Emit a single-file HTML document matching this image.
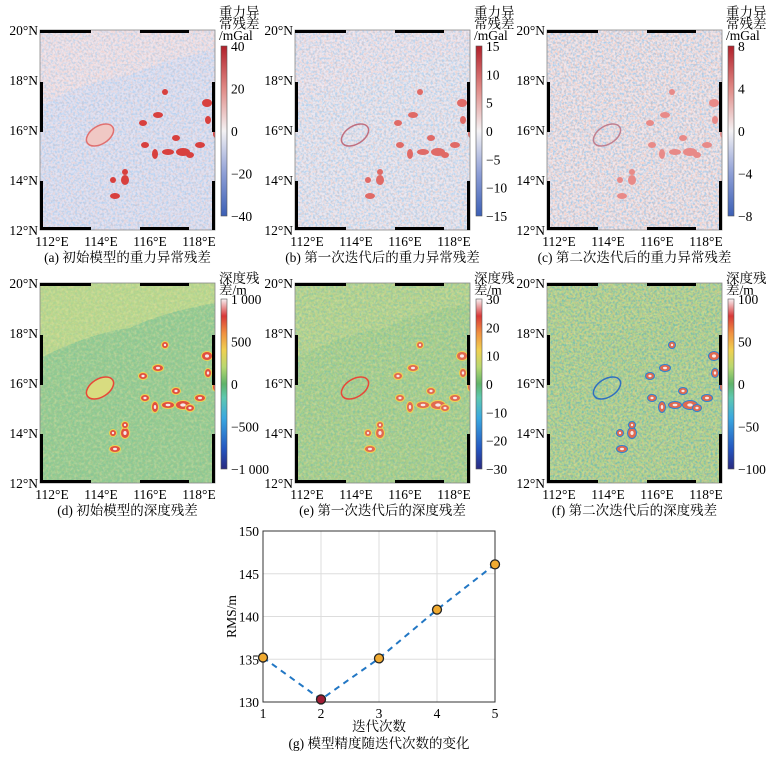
<!DOCTYPE html>
<html><head><meta charset="utf-8">
<style>
html,body{margin:0;padding:0;background:#fff;}
svg{display:block;font-family:"Liberation Serif","Noto Serif CJK SC",serif;}
</style></head>
<body>
<svg id="s" width="773" height="757" viewBox="0 0 773 757" xmlns="http://www.w3.org/2000/svg">
<defs>
<filter id="nz" x="0" y="0" width="100%" height="100%">
<feTurbulence type="fractalNoise" baseFrequency="0.45" numOctaves="2" seed="3"/>
<feColorMatrix type="matrix" values="0 0 0 0 0  0 0 0 0 0.3  0 0 0 0 0.9  0 0 0 -3 1.8"/>
</filter>
<filter id="nzr" x="0" y="0" width="100%" height="100%">
<feTurbulence type="fractalNoise" baseFrequency="0.45" numOctaves="2" seed="9"/>
<feColorMatrix type="matrix" values="0 0 0 0 0.95  0 0 0 0 0.35  0 0 0 0 0.2  0 0 0 -3 1.8"/>
</filter>
<filter id="nzy" x="0" y="0" width="100%" height="100%">
<feTurbulence type="fractalNoise" baseFrequency="0.35" numOctaves="2" seed="5"/>
<feColorMatrix type="matrix" values="0 0 0 0 0.95  0 0 0 0 0.85  0 0 0 0 0.4  0 0 0 -2.5 1.5"/>
</filter>
<linearGradient id="gbr" x1="0" y1="1" x2="0" y2="0">
<stop offset="0" stop-color="#3b5fb5"/><stop offset="0.25" stop-color="#8e9fd6"/><stop offset="0.5" stop-color="#f4f2f4"/><stop offset="0.75" stop-color="#e08a86"/><stop offset="1" stop-color="#b1202a"/>
</linearGradient>
<linearGradient id="gjet" x1="0" y1="1" x2="0" y2="0">
<stop offset="0" stop-color="#2a2a80"/><stop offset="0.12" stop-color="#2456c0"/><stop offset="0.3" stop-color="#3aa8e0"/><stop offset="0.42" stop-color="#5ec8b0"/><stop offset="0.5" stop-color="#5fb36a"/><stop offset="0.6" stop-color="#b8d870"/><stop offset="0.7" stop-color="#f0d050"/><stop offset="0.8" stop-color="#f09040"/><stop offset="0.9" stop-color="#d83838"/><stop offset="1" stop-color="#f8f0f2"/>
</linearGradient>
</defs>
</svg>
<script>
const s=document.getElementById('s');let h='';
const W=175,H=200;
const blobs=[[118,85,5,3],[105,115,4,3],[115,124,3,5],[143,122,7,4],[128,122,6,3],[136,108,4,3],[167,73,5,4],[73,150,3,3],[85,150,4,5],[85,142,3,3],[75,166,5,3],[160,115,5,3],[125,62,3,3],[103,93,4,3],[150,125,4,3],[176,104,3,4],[168,90,3,4]];
function bars(ox,oy){
 let r='';
 r+=`<rect x="${ox}" y="${oy}" width="${W}" height="${H}" fill="none" stroke="#888" stroke-width="0.8"/>`;
 [[0,51],[100,149]].forEach(([a,b])=>{
  r+=`<rect x="${ox+a}" y="${oy}" width="${b-a}" height="3" fill="#000"/>`;
  r+=`<rect x="${ox+a}" y="${oy+H-3}" width="${b-a}" height="3" fill="#000"/>`;});
 [[52,102],[151,200]].forEach(([a,b])=>{
  r+=`<rect x="${ox}" y="${oy+a}" width="3" height="${b-a}" fill="#000"/>`;
  r+=`<rect x="${ox+W-3}" y="${oy+a}" width="3" height="${b-a}" fill="#000"/>`;});
 ['20°N','18°N','16°N','14°N','12°N'].forEach((t,i)=>{r+=`<text x="${ox-2}" y="${oy+i*50+5}" font-size="13.5" text-anchor="end">${t}</text>`;});
 ['112°E','114°E','116°E','118°E'].forEach((t,i)=>{r+=`<text x="${ox+12+i*49}" y="${oy+H+16}" font-size="13.5" text-anchor="middle">${t}</text>`;});
 return r;}
function panel(ox,oy,k,cap){
 let r='';const cid='c'+ox+oy;
 r+=`<clipPath id="${cid}"><rect x="${ox}" y="${oy}" width="${W}" height="${H}"/></clipPath><g clip-path="url(#${cid})">`;
 const grav=oy<100;
 let bg,tl,blob;
 if(grav){bg=['#e2e2f2','#ebe8f1','#f2e6ea'][k];tl=['#f1e4ea','#efe7ef','#f2e6ea'][k];blob=['#d8403e','#e06a66','#e88a88'][k];}
 else{bg=['#92cb90','#a4d08a','#b0d48a'][k];tl=['#b8d88c','#b2d58c','#b4d58a'][k];blob=['#e05040','#e06a50','#e06a50'][k];}
 r+=`<rect x="${ox}" y="${oy}" width="${W}" height="${H}" fill="${bg}"/>`;
 r+=`<path d="M${ox} ${oy} L${ox+W} ${oy} L${ox+W} ${oy+20} Q${ox+120} ${oy+30} ${ox+90} ${oy+45} Q${ox+50} ${oy+50} ${ox} ${oy+75} Z" fill="${tl}"/>`;
 if(grav){
  const o=[0.18,0.22,0.28][k];
  r+=`<rect x="${ox}" y="${oy}" width="${W}" height="${H}" filter="url(#nz)" opacity="${o}"/>`;
  r+=`<rect x="${ox}" y="${oy}" width="${W}" height="${H}" filter="url(#nzr)" opacity="${o}"/>`;
 } else {
  const ob=[0.08,0.18,0.32][k], orr=[0.1,0.15,0.25][k];
  r+=`<rect x="${ox}" y="${oy}" width="${W}" height="${H}" filter="url(#nzy)" opacity="0.35"/>`;
  r+=`<rect x="${ox}" y="${oy}" width="${W}" height="${H}" filter="url(#nz)" opacity="${ob}"/>`;
  r+=`<rect x="${ox}" y="${oy}" width="${W}" height="${H}" filter="url(#nzr)" opacity="${orr}"/>`;
 }
 const ef=grav?(k==0?'#f0c8c4':'none'):(k==0?'#d8dc80':'none');
 const es=grav?['#e07070','#c07080','#c08090'][k]:['#e84838','#e84838','#3070c0'][k];
 r+=`<ellipse cx="${ox+60}" cy="${oy+105}" rx="15" ry="9" transform="rotate(-32 ${ox+60} ${oy+105})" fill="${ef}" stroke="${es}" stroke-width="1.5"/>`;
 blobs.forEach(([x,y,a,b])=>{
  if(!grav) r+=`<ellipse cx="${ox+x}" cy="${oy+y}" rx="${a+1}" ry="${b+1}" fill="${k==2?'#3080d0':'#f0d050'}"/>`;
  r+=`<ellipse cx="${ox+x}" cy="${oy+y}" rx="${a}" ry="${b}" fill="${blob}"/>`;
  if(!grav) r+=`<ellipse cx="${ox+x}" cy="${oy+y}" rx="${a*0.4}" ry="${b*0.4}" fill="#f6e8ea"/>`;});
 r+='</g>';
 r+=bars(ox,oy);
 r+=`<text x="${ox+W/2}" y="${oy+H+32}" font-size="13.5" text-anchor="middle">${cap}</text>`;
 return r;}
function cbar(x,y,hh,grad,labels,title,ty){
 let r=`<rect x="${x}" y="${y}" width="6" height="${hh}" fill="url(#${grad})" stroke="#555" stroke-width="0.6"/>`;
 labels.forEach((t,i)=>{const yy=y+i*hh/(labels.length-1);r+=`<text x="${x+10}" y="${yy+5}" font-size="13.5">${t}</text>`;});
 title.forEach((t,i)=>{r+=`<text x="${x-2}" y="${ty+i*11.5}" font-size="13.5">${t}</text>`;});
 return r;}
const xs=[40,295,547];
const caps1=['(a) 初始模型的重力异常残差','(b) 第一次迭代后的重力异常残差','(c) 第二次迭代后的重力异常残差'];
const caps2=['(d) 初始模型的深度残差','(e) 第一次迭代后的深度残差','(f) 第二次迭代后的深度残差'];
const l1=[['40','20','0','−20','−40'],['15','10','5','0','−5','−10','−15'],['8','4','0','−4','−8']];
const l2=[['1 000','500','0','−500','−1 000'],['30','20','10','0','−10','−20','−30'],['100','50','0','−50','−100']];
for(let k=0;k<3;k++){
 h+=panel(xs[k],30,k,caps1[k]);
 h+=cbar(xs[k]+181,46,170,'gbr',l1[k],['重力异','常残差','/mGal'],17);
 h+=panel(xs[k],283,k,caps2[k]);
 h+=cbar(xs[k]+181,299,170,'gjet',l2[k],['深度残','差/m'],283);
}
const gx0=263,gx1=495,gy0=531,gy1=702;
const X=v=>gx0+(v-1)*(gx1-gx0)/4, Y=v=>gy1-(v-130)*(gy1-gy0)/20;
for(let i=1;i<=5;i++){h+=`<line x1="${X(i)}" y1="${gy0}" x2="${X(i)}" y2="${gy1}" stroke="#ddd"/>`;h+=`<text x="${X(i)}" y="${gy1+16}" font-size="13.5" text-anchor="middle">${i}</text>`;}
for(let v=130;v<=150;v+=5){h+=`<line x1="${gx0}" y1="${Y(v)}" x2="${gx1}" y2="${Y(v)}" stroke="#ddd"/>`;h+=`<text x="${gx0-4}" y="${Y(v)+5}" font-size="13.5" text-anchor="end">${v}</text>`;}
h+=`<rect x="${gx0}" y="${gy0}" width="${gx1-gx0}" height="${gy1-gy0}" fill="none" stroke="#333" stroke-width="1"/>`;
const pts=[[1,135.2],[2,130.3],[3,135.1],[4,140.8],[5,146.1]];
h+=`<polyline points="${pts.map(p=>X(p[0])+','+Y(p[1])).join(' ')}" fill="none" stroke="#2277c4" stroke-width="2" stroke-dasharray="6,5"/>`;
pts.forEach((p,i)=>{h+=`<circle cx="${X(p[0])}" cy="${Y(p[1])}" r="4.5" fill="${i==1?'#a01c34':'#f0aa30'}" stroke="#222" stroke-width="1.3"/>`;});
h+=`<text x="236" y="${(gy0+gy1)/2}" font-size="13.5" text-anchor="middle" transform="rotate(-90 236 ${(gy0+gy1)/2})">RMS/m</text>`;
h+=`<text x="${(gx0+gx1)/2}" y="731" font-size="13.5" text-anchor="middle">迭代次数</text>`;
h+=`<text x="${(gx0+gx1)/2}" y="748" font-size="13.5" text-anchor="middle">(g) 模型精度随迭代次数的变化</text>`;
s.insertAdjacentHTML('beforeend',h);
</script>
</body></html>
